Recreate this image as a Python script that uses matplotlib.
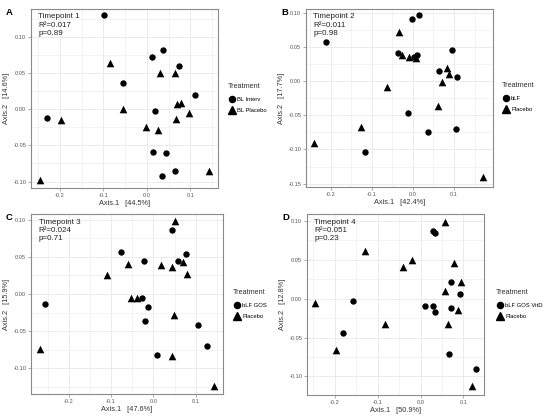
import matplotlib
matplotlib.use('Agg')
import matplotlib.pyplot as plt
from matplotlib.lines import Line2D

plt.rcParams['font.family'] = ['Liberation Sans', 'DejaVu Sans']

# ---- data ----
panels = ['A', 'B', 'C', 'D']
timepoints = ['Timepoint 1', 'Timepoint 2', 'Timepoint 3', 'Timepoint 4']
r2_vals = ['0.017', '0.011', '0.024', '0.051']
p_vals = ['0.89', '0.98', '0.71', '0.23']
axis1_pct = ['44.5', '42.4', '47.6', '50.9']
axis2_pct = ['14.6', '17.7', '15.9', '12.8']
group_labels = [('BL Interv', 'BL Placebo'), ('bLF', 'Placebo'),
                ('bLF GOS', 'Placebo'), ('bLF GOS VitD', 'Placebo')]

a_circ_x = [-0.098, 0.038, 0.013, 0.075, -0.056, 0.112, 0.018, -0.231, 0.014, 0.044, 0.064, 0.035]
a_circ_y = [0.131, 0.082, 0.073, 0.060, 0.036, 0.020, -0.003, -0.012, -0.059, -0.061, -0.086, -0.093]
a_tri_x = [-0.085, 0.030, 0.064, 0.078, 0.069, -0.054, 0.098, -0.199, 0.068, -0.002, 0.026, 0.143, -0.246]
a_tri_y = [0.064, 0.050, 0.050, 0.009, 0.007, 0.000, -0.005, -0.015, -0.013, -0.025, -0.028, -0.085, -0.098]

b_circ_x = [0.014, -0.001, -0.211, 0.095, -0.036, 0.011, 0.003, 0.064, 0.107, -0.011, 0.038, 0.104, -0.116]
b_circ_y = [0.097, 0.091, 0.058, 0.046, 0.041, 0.039, 0.036, 0.015, 0.006, -0.047, -0.074, -0.070, -0.103]
b_tri_x = [-0.034, -0.027, -0.009, 0.007, 0.084, 0.088, 0.072, -0.064, 0.060, -0.125, -0.241, 0.170]
b_tri_y = [0.073, 0.038, 0.036, 0.034, 0.020, 0.011, -0.001, -0.008, -0.036, -0.067, -0.090, -0.141]

c_circ_x = [0.043, -0.077, 0.076, -0.022, 0.058, -0.026, -0.257, -0.013, -0.019, 0.104, 0.126, 0.009]
c_circ_y = [0.087, 0.057, 0.054, 0.045, 0.044, -0.005, -0.013, -0.018, -0.037, -0.042, -0.070, -0.083]
c_tri_x = [0.050, -0.059, 0.018, 0.043, 0.069, 0.080, -0.109, -0.054, -0.039, 0.049, -0.267, 0.044, 0.143]
c_tri_y = [0.099, 0.040, 0.039, 0.037, 0.043, 0.027, 0.025, -0.005, -0.006, -0.029, -0.074, -0.084, -0.124]

d_circ_x = [0.028, 0.034, 0.072, 0.092, -0.157, 0.010, 0.028, 0.034, 0.071, -0.181, 0.067, 0.130]
d_circ_y = [0.087, 0.084, 0.022, 0.006, -0.003, -0.009, -0.009, -0.017, -0.012, -0.044, -0.071, -0.091]
d_tri_x = [0.057, -0.129, -0.019, -0.042, 0.078, 0.095, 0.057, -0.247, 0.087, -0.082, 0.064, -0.197, 0.119]
d_tri_y = [0.099, 0.061, 0.050, 0.041, 0.046, 0.021, 0.010, -0.006, -0.015, -0.032, -0.033, -0.066, -0.113]

points = [(a_circ_x, a_circ_y, a_tri_x, a_tri_y),
          (b_circ_x, b_circ_y, b_tri_x, b_tri_y),
          (c_circ_x, c_circ_y, c_tri_x, c_tri_y),
          (d_circ_x, d_circ_y, d_tri_x, d_tri_y)]

x_ticks = [-0.2, -0.1, 0.0, 0.1]
y_ticks = [[-0.10, -0.05, 0.0, 0.05, 0.10],
           [-0.15, -0.10, -0.05, 0.0, 0.05, 0.10],
           [-0.10, -0.05, 0.0, 0.05, 0.10],
           [-0.10, -0.05, 0.0, 0.05, 0.10]]

# ---- layout (pixel boxes: left, top, right, bottom) ----
W, H = 550, 420
boxes = [(31, 9, 218, 188), (306, 9, 493, 187), (31, 214, 223, 394), (307, 214, 484, 395)]
xlims = [(-0.267, 0.164), (-0.260, 0.195), (-0.289, 0.164), (-0.265, 0.148)]
ylims = [(-0.109, 0.139), (-0.155, 0.106), (-0.135, 0.108), (-0.124, 0.109)]
legend_pos = [(226, 81), (500, 80), (231, 287), (494, 287)]

BORDER = '#8a8a8a'
GRID = '#ebebeb'
TICKTXT = '#555555'

fig = plt.figure(figsize=(W / 100, H / 100), dpi=100)
fig.patch.set_facecolor('white')

for i in range(4):
    l, t, r, b = boxes[i]
    ax = fig.add_axes([l / W, (H - b) / H, (r - l) / W, (b - t) / H])
    cx, cy, tx, ty = points[i]
    ax.scatter(cx, cy, marker='o', s=21, color='black', zorder=3, linewidths=0)
    ax.scatter(tx, ty, marker='^', s=30, color='black', zorder=3, linewidths=0)

    ax.set_xticks(x_ticks)
    ax.set_xticklabels([f'{v:.1f}' for v in x_ticks])
    ax.set_yticks(y_ticks[i])
    ax.set_yticklabels([f'{v:.2f}' for v in y_ticks[i]])
    ax.set_xticks([-0.25, -0.15, -0.05, 0.05, 0.15], minor=True)
    ax.set_yticks([-0.125, -0.075, -0.025, 0.025, 0.075, 0.125], minor=True)
    ax.set_xlim(*xlims[i])
    ax.set_ylim(*ylims[i])
    ax.grid(which='major', color=GRID, lw=0.7, zorder=0)
    ax.grid(which='minor', color=GRID, lw=0.4, zorder=0)
    ax.set_axisbelow(True)
    ax.tick_params(which='major', labelsize=4.1, labelcolor=TICKTXT, color=BORDER,
                   length=2, width=0.5, pad=1.5)
    ax.tick_params(which='minor', length=0)
    for s in ax.spines.values():
        s.set_color(BORDER)
        s.set_linewidth(0.8)

    ax.set_xlabel(f'Axis.1   [{axis1_pct[i]}%]', fontsize=5.3, color='#333333', labelpad=1.5)
    ax.set_ylabel(f'Axis.2   [{axis2_pct[i]}%]', fontsize=5.3, color='#333333', labelpad=2.5)

    ax.text(0.04, 0.975, f'{timepoints[i]}\nR²={r2_vals[i]}\np={p_vals[i]}',
            transform=ax.transAxes, ha='left', va='top', fontsize=5.8,
            linespacing=1.25, color='#222222')

    fig.text((l - 25) / W, 1 - (t - 1) / H, panels[i], fontsize=6.8, fontweight='bold',
             ha='left', va='top')

    handles = [Line2D([], [], marker='o', ls='', color='black', markersize=4.4),
               Line2D([], [], marker='^', ls='', color='black', markersize=5.2)]
    lx, ly = legend_pos[i]
    leg = ax.legend(handles, group_labels[i], title='Treatment', loc='upper left',
                    bbox_to_anchor=(lx / W, 1 - ly / H), bbox_transform=fig.transFigure,
                    frameon=False, fontsize=4.2, title_fontsize=5.2, handletextpad=0.3,
                    handlelength=1.2, labelspacing=1.1, borderaxespad=0, alignment='left')
    leg.get_title().set_color('#333333')

fig.savefig('out.png', dpi=100, facecolor='white')
